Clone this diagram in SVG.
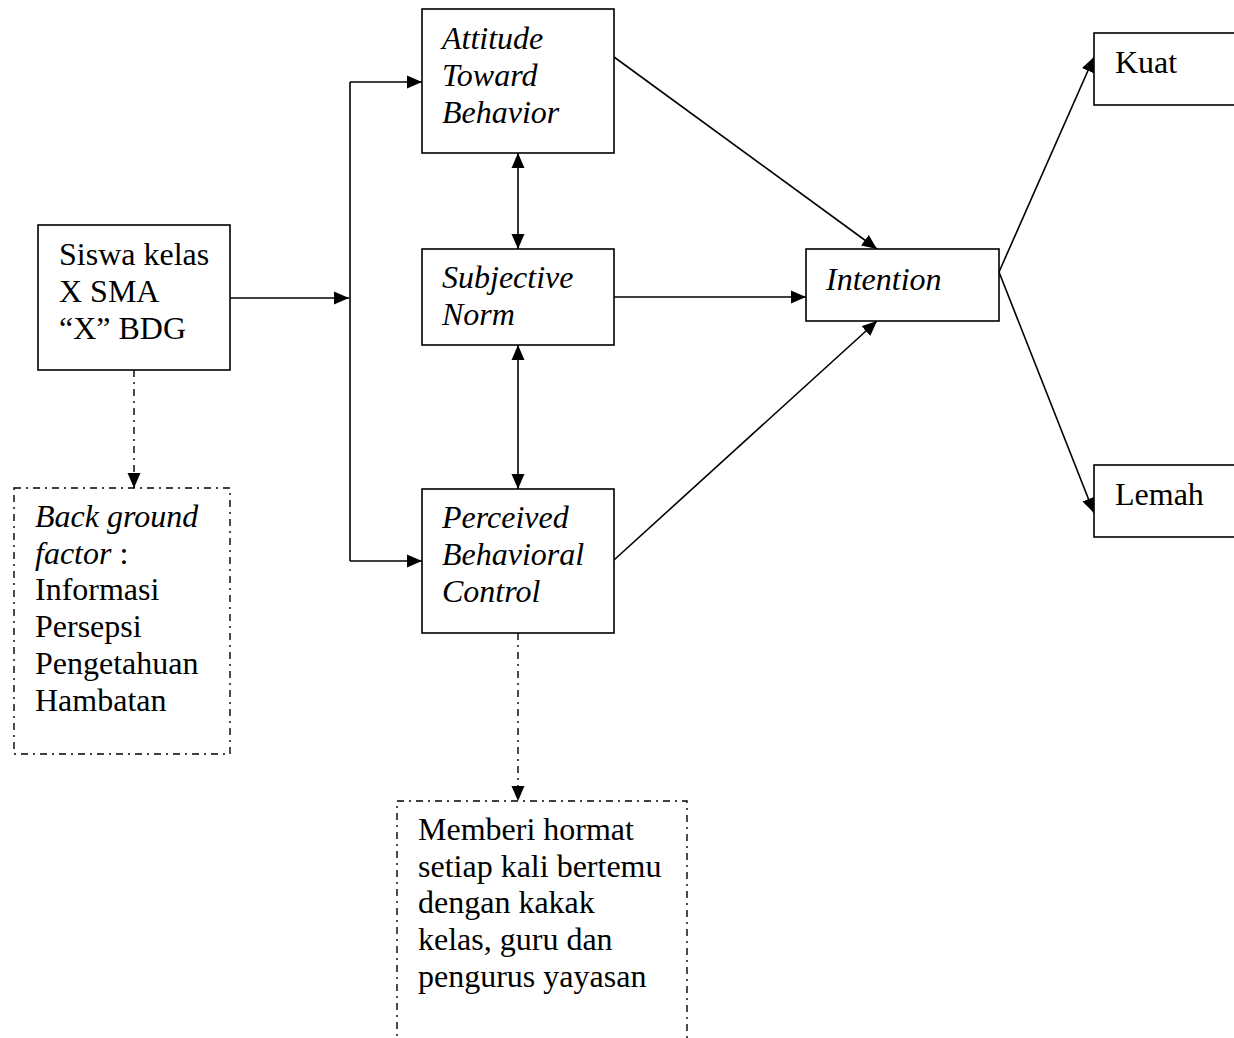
<svg xmlns="http://www.w3.org/2000/svg" width="1234" height="1038" viewBox="0 0 1234 1038">
<style>
.box{fill:#fff;stroke:#000;stroke-width:1.6}
.dbox{fill:none;stroke:#000;stroke-width:1.4;stroke-dasharray:7 5 2 5}
.t{font-family:"Liberation Serif","Times New Roman",serif;font-size:32px;fill:#000}
.i{font-style:italic}
.ln{fill:none;stroke:#000;stroke-width:1.6}
.dl{fill:none;stroke:#000;stroke-width:1.4;stroke-dasharray:7 5 2 5}
</style>
<defs>
<marker id="ah" markerUnits="userSpaceOnUse" markerWidth="16" markerHeight="14" refX="15" refY="7" orient="auto">
<path d="M0,0.5 L15,7 L0,13.5 Z" fill="#000"/>
</marker>
<marker id="as" markerUnits="userSpaceOnUse" markerWidth="16" markerHeight="14" refX="1" refY="7" orient="auto">
<path d="M16,0.5 L1,7 L16,13.5 Z" fill="#000"/>
</marker>
</defs>
<g id="connectors">
<path class="ln" d="M230,298 H349" marker-end="url(#ah)"/>
<path class="ln" d="M350,82 V561"/>
<path class="ln" d="M350,82 H422" marker-end="url(#ah)"/>
<path class="ln" d="M350,561 H422" marker-end="url(#ah)"/>
<path class="ln" d="M518,153 V249" marker-start="url(#as)" marker-end="url(#ah)"/>
<path class="ln" d="M518,345 V489" marker-start="url(#as)" marker-end="url(#ah)"/>
<path class="ln" d="M614,57 L877,249" marker-end="url(#ah)"/>
<path class="ln" d="M614,297 H806" marker-end="url(#ah)"/>
<path class="ln" d="M614,560 L877,321" marker-end="url(#ah)"/>
<path class="ln" d="M999,272 L1094,57" marker-end="url(#ah)"/>
<path class="ln" d="M999,272 L1094,513" marker-end="url(#ah)"/>
<path class="dl" d="M134,370 V488" marker-end="url(#ah)"/>
<path class="dl" d="M518,633 V801" marker-end="url(#ah)"/>
</g>
<g id="siswa">
<rect class="box" x="38" y="225" width="192" height="145"/>
<text class="t" x="59" y="265">Siswa kelas</text>
<text class="t" x="59" y="302">X SMA</text>
<text class="t" x="59" y="339">“X” BDG</text>
</g>
<g id="background">
<rect class="dbox" x="14" y="488" width="216" height="266"/>
<text class="t" x="35" y="527"><tspan class="i">Back ground</tspan></text>
<text class="t" x="35" y="564"><tspan class="i">factor</tspan> :</text>
<text class="t" x="35" y="600">Informasi</text>
<text class="t" x="35" y="637">Persepsi</text>
<text class="t" x="35" y="674">Pengetahuan</text>
<text class="t" x="35" y="711">Hambatan</text>
</g>
<g id="attitude">
<rect class="box" x="422" y="9" width="192" height="144"/>
<text class="t i" x="442" y="49">Attitude</text>
<text class="t i" x="442" y="86">Toward</text>
<text class="t i" x="442" y="123">Behavior</text>
</g>
<g id="subjective">
<rect class="box" x="422" y="249" width="192" height="96"/>
<text class="t i" x="442" y="288">Subjective</text>
<text class="t i" x="442" y="325">Norm</text>
</g>
<g id="pbc">
<rect class="box" x="422" y="489" width="192" height="144"/>
<text class="t i" x="442" y="528">Perceived</text>
<text class="t i" x="442" y="565">Behavioral</text>
<text class="t i" x="442" y="602">Control</text>
</g>
<g id="memberi">
<rect class="dbox" x="397" y="801" width="290" height="280"/>
<text class="t" x="418" y="840">Memberi hormat</text>
<text class="t" x="418" y="877">setiap kali bertemu</text>
<text class="t" x="418" y="913">dengan kakak</text>
<text class="t" x="418" y="950">kelas, guru dan</text>
<text class="t" x="418" y="987">pengurus yayasan</text>
</g>
<g id="intention">
<rect class="box" x="806" y="249" width="193" height="72"/>
<text class="t i" x="826" y="290">Intention</text>
</g>
<g id="kuat">
<rect class="box" x="1094" y="33" width="150" height="72"/>
<text class="t" x="1115" y="73">Kuat</text>
</g>
<g id="lemah">
<rect class="box" x="1094" y="465" width="150" height="72"/>
<text class="t" x="1115" y="505">Lemah</text>
</g>
</svg>
